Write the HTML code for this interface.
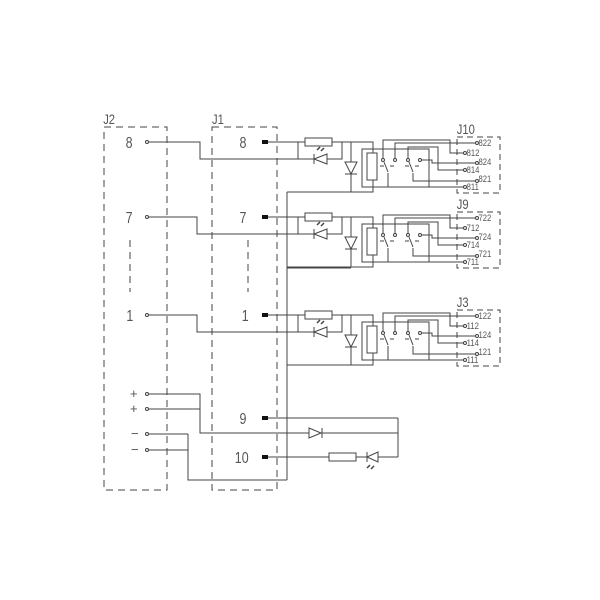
<!DOCTYPE html>
<html><head><style>
html,body{margin:0;padding:0;background:#fff}
svg{display:block}
text{font-family:"Liberation Sans",sans-serif;fill:#555}
</style></head><body>
<svg width="600" height="600" viewBox="0 0 600 600" xmlns="http://www.w3.org/2000/svg">
<defs>
<g id="blk" stroke="#444" stroke-width="1" fill="none">
  <rect x="262" y="140" width="6" height="4" fill="#111" stroke="none"/>
  <path d="M268 142H373V153"/>
  <path d="M298 142V159"/>
  <rect x="305" y="138" width="27" height="8" fill="#fff"/>
  <path d="M298 159H342V142"/>
  <path d="M327 154L314 159L327 164Z" fill="#fff"/>
  <path d="M314 154V164"/>
  <path d="M317 150l3 -3M321 151l3 -3" stroke-width="1.5"/>
  <path d="M351 142V192"/>
  <path d="M345 162H357L351 174Z" fill="#fff"/>
  <path d="M345 174H357"/>
  <path d="M287 192H373V180"/>
  <rect x="362" y="149" width="67" height="38"/>
  <rect x="367" y="153" width="10" height="27" fill="#fff"/>
  <path d="M383 160V140H450V153H465"/>
  <path d="M395 160V143H477"/>
  <path d="M408 160V147H438V170H465"/>
  <path d="M420 160H432V163H477"/>
  <path d="M388 173V187H465"/>
  <path d="M413 173V181H477"/>
  <path d="M384 162L388 172M409 162L413 172"/>
  <path d="M380 166h4M390 166h4M405 166h4M415 166h4"/>
  <g fill="#fff"><circle cx="383" cy="160" r="1.5"/><circle cx="395" cy="160" r="1.5"/><circle cx="408" cy="160" r="1.5"/><circle cx="420" cy="160" r="1.5"/>
  <circle cx="465" cy="153" r="1.5"/><circle cx="477" cy="143" r="1.5"/><circle cx="465" cy="170" r="1.5"/><circle cx="477" cy="163" r="1.5"/><circle cx="465" cy="187" r="1.5"/><circle cx="477" cy="181" r="1.5"/></g>
  <rect x="457" y="137" width="43" height="56" stroke-dasharray="6,4"/>
</g>
</defs>
<g stroke="#444" stroke-width="1" fill="none">
  <rect x="104" y="127" width="63" height="363" stroke-dasharray="7,5"/>
  <rect x="212" y="127" width="65" height="363" stroke-dasharray="7,5"/>
  <path d="M130 240V292M248 240V292" stroke-dasharray="7,5"/>
  <path d="M147 142H200V159H298"/>
  <path d="M147 217H197V234H298V217H268"/>
  <path d="M147 315H197V332H298"/>
  <path d="M287 192V480"/>
  <path d="M287 268H351M287 365H351"/>
  <path d="M147 394H200V433H398M147 409H200"/>
  <path d="M398 418V457"/>
  <path d="M147 434H188M147 450H188M188 434V480H287"/>
  <path d="M268 418H398M268 457H329M356 457H398"/>
  <rect x="329" y="453" width="27" height="8" fill="#fff"/>
  <path d="M309 428V438L321 433Z" fill="#fff"/><path d="M322 428V438"/>
  <path d="M378 452L367 457L378 462Z" fill="#fff"/><path d="M367 452V462"/>
  <path d="M370 465l-3 3M374 466l-3 3" stroke-width="1.5"/>
  <g fill="#fff"><circle cx="147" cy="142" r="1.5"/><circle cx="147" cy="217" r="1.5"/><circle cx="147" cy="315" r="1.5"/><circle cx="147" cy="394" r="1.5"/><circle cx="147" cy="409" r="1.5"/><circle cx="147" cy="434" r="1.5"/><circle cx="147" cy="450" r="1.5"/></g>
</g>
<rect x="262" y="416" width="6" height="4" fill="#111"/>
<rect x="262" y="455" width="6" height="4" fill="#111"/>
<use href="#blk"/>
<use href="#blk" transform="translate(0,75)"/>
<use href="#blk" transform="translate(0,173)"/>
<g font-size="16" transform="scale(0.78,1)">
<text x="161" y="148">8</text><text x="161" y="223">7</text><text x="162" y="321">1</text>
<text x="307" y="148">8</text><text x="307" y="223">7</text><text x="310" y="321">1</text>
<text x="307" y="424">9</text><text x="301" y="463">10</text>
</g>
<g font-size="14" transform="scale(0.8,1)"><text x="129" y="124">J2</text><text x="265" y="124">J1</text>
<text x="571" y="134">J10</text><text x="571" y="209">J9</text><text x="571" y="307">J3</text></g>
<g font-size="13"><text x="130" y="398">+</text><text x="130" y="413">+</text><text x="131" y="438">−</text><text x="131" y="454">−</text></g>
<g font-size="9" transform="scale(0.85,1)">
<g><text x="563" y="146">822</text><text x="549" y="156">812</text><text x="563" y="165">824</text><text x="549" y="173">814</text><text x="563" y="182">821</text><text x="549" y="190">811</text></g>
<g transform="translate(0,75)"><text x="563" y="146">722</text><text x="549" y="156">712</text><text x="563" y="165">724</text><text x="549" y="173">714</text><text x="563" y="182">721</text><text x="549" y="190">711</text></g>
<g transform="translate(0,173)"><text x="563" y="146">122</text><text x="549" y="156">112</text><text x="563" y="165">124</text><text x="549" y="173">114</text><text x="563" y="182">121</text><text x="549" y="190">111</text></g>
</g>
</svg>
</body></html>
